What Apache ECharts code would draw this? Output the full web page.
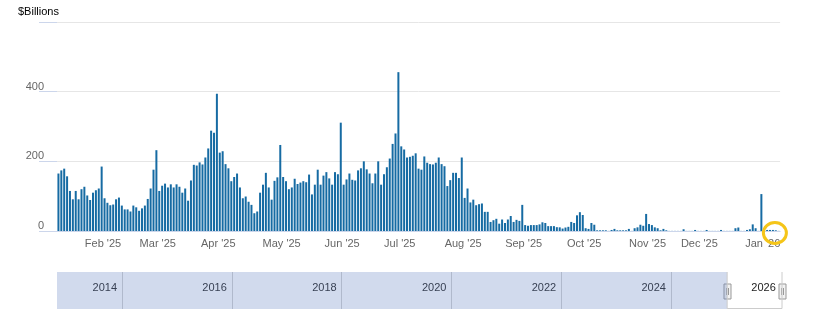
<!DOCTYPE html>
<html><head><meta charset="utf-8">
<script src="https://cdn.jsdelivr.net/npm/echarts@6/dist/echarts.min.js"></script>
<style>html,body{margin:0;padding:0;background:#fff}#c{width:813px;height:324px}</style>
</head><body><div id="c"></div>
<script>
// ---- data (values in $Billions, one per business day) ----
const firstDate = '2025-01-09';
const holidays = ['2025-01-20','2025-02-17','2025-05-26','2025-06-19','2025-07-04','2025-09-01','2025-10-13','2025-11-11','2025-11-27','2025-12-25','2026-01-01'];
const months = ['2025-01','2025-02','2025-03','2025-04','2025-05','2025-06','2025-07','2025-08','2025-09','2025-10','2025-11','2025-12','2026-01'];
const jan25 = [165,174,179,157,115,91,115,91,120,127,102,89,110,117,122,185];
const feb25 = [94,81,74,76,91,96,73,62,62,56,73,68,58,65,73,92,122,176,232];
const mar25 = [115,130,136,125,134,125,134,127,110,122,87,145,190,188,197,191,211,237,288,282,394];
const apr25 = [225,229,192,180,143,155,165,125,94,99,84,75,51,56,110,133,167,125,90,144,154,247];
const may25 = [155,143,120,125,150,135,139,143,140,162,105,133,176,133,159,169,151,133,169,163,311];
const jun25 = [133,148,165,147,145,174,180,200,177,165,137,165,200,133,163,183,208,250,280,456];
const jul25 = [243,234,211,213,216,223,179,176,214,196,192,191,196,211,192,186,129,146,167,167,152,211];
const aug25 = [95,122,82,90,74,77,79,55,55,26,31,35,21,33,23,33,43,26,32,29,75];
const sep25 = [17,15,17,17,17,19,25,23,14,14,14,11,10.5,7,10,12,26,23,45,54,46];
const oct25 = [8,6,23,18,2,2,2,2,0.3,3,6,2,2,2,2,6,0.3,8,10.5,18,15,49];
const nov25 = [20,17,10.5,8,2,6,2,0.3,0.3,0.3,0.3,0.3,5,0.3,0.3,0.3,3,0.3];
const dec25 = [0.3,0.3,3,0.3,0.3,0.3,0.3,3,0.3,0.3,0.3,0.3,8,10,0.3,0.3,3,5,19,8,0.3,106];
const jan26 = [0.5,3,3,3,2,0.3];
const monthValues = [jan25,feb25,mar25,apr25,may25,jun25,jul25,aug25,sep25,oct25,nov25,dec25,jan26];

// x-axis tick labels (first business day of each month)
const monthTicks = ['2025-02','2025-03','2025-04','2025-05','2025-06','2025-07','2025-08','2025-09','2025-10','2025-11','2025-12','2026-01'];
const tickLabels = ["Feb '25","Mar '25","Apr '25","May '25","Jun '25","Jul '25","Aug '25","Sep '25","Oct '25","Nov '25","Dec '25","Jan '26"];
// y-axis
const yMin = 0, yMax = 600, yStep = 200;
// navigator
const navRange = ['2012-10-25','2026-01-09'];
const navSeparatorYears = [2014,2016,2018,2020,2022,2024];
const navLabelYears = [2014,2016,2018,2020,2022,2024,2026];
const selection = ['2025-01-09','2026-01-09'];
const highlightDate = '2026-01-07';

// ---- build categories ----
function ts(s){const p=s.split('-').map(Number);return Date.UTC(p[0],p[1]-1,p[2]||1);}
function fmt(t){const d=new Date(t);return d.getUTCFullYear()+'-'+String(d.getUTCMonth()+1).padStart(2,'0')+'-'+String(d.getUTCDate()).padStart(2,'0');}
const dates=[], values=[];
months.forEach((m,mi)=>{
  const p=m.split('-').map(Number);
  const vals=monthValues[mi];
  let k=0;
  for(let day=1; day<=31 && k<vals.length; day++){
    const t=Date.UTC(p[0],p[1]-1,day);
    const d=new Date(t);
    if(d.getUTCMonth()!==p[1]-1) break;
    const wd=d.getUTCDay();
    const s=fmt(t);
    if(wd===0||wd===6||holidays.includes(s)||t<ts(firstDate)) continue;
    dates.push(s); values.push(vals[k++]);
  }
});
const tickIndex={};
monthTicks.forEach((m,i)=>{const idx=dates.findIndex(d=>d.startsWith(m)); if(idx>=0) tickIndex[idx]=tickLabels[i];});
const isTick=(i)=>tickIndex[i]!==undefined;

const FONT='"Liberation Sans", Arial, sans-serif';
const chart=echarts.init(document.getElementById('c'));
chart.setOption({
  animation:false,
  textStyle:{fontFamily:FONT},
  title:{text:'$Billions',left:18,top:6,padding:0,textStyle:{fontSize:11,fontWeight:'normal',color:'#000',fontFamily:FONT}},
  grid:[
    {left:57,top:22,width:723.1,height:209},
    {left:57,top:272,width:725,height:37,show:true,backgroundColor:'#fff',borderWidth:0}
  ],
  xAxis:[
    {type:'category',gridIndex:0,data:dates,boundaryGap:true,
     axisLine:{lineStyle:{color:'#ccd6eb'}},
     axisTick:{interval:(i)=>isTick(i),length:9,lineStyle:{color:'#ccd6eb'}},
     axisLabel:{interval:(i)=>isTick(i),formatter:(v,i)=>tickIndex[i]||'',color:'#666',fontSize:11,margin:7,padding:[0,3,0,0],fontFamily:FONT},
     splitLine:{show:false}},
    {type:'value',gridIndex:1,min:ts(navRange[0]),max:ts(navRange[1]),
     axisLine:{show:false},
     axisTick:{show:true,inside:true,length:37,customValues:navSeparatorYears.map(y=>Date.UTC(y,0,1)),lineStyle:{color:'#d0d0d0'}},
     axisLabel:{customValues:navLabelYears.map(y=>Date.UTC(y,0,1)),formatter:(v)=>String(new Date(v).getUTCFullYear()),
       inside:true,margin:21,verticalAlign:'middle',align:'right',padding:[0,5,0,0],color:'#222',fontSize:11,fontFamily:FONT,hideOverlap:false,showMinLabel:true,showMaxLabel:true},
     splitLine:{show:false}}
  ],
  yAxis:[
    {type:'value',gridIndex:0,min:yMin,max:yMax,interval:yStep,
     axisLine:{show:false},
     axisTick:{show:true,length:18,lineStyle:{color:'#ccd6eb'}},
     axisLabel:{color:'#666',fontSize:11,margin:13,verticalAlign:'bottom',lineHeight:10,fontFamily:FONT,formatter:(v)=>v===yMax?'':String(v)},
     splitLine:{lineStyle:{color:'#e6e6e6'}}},
    {type:'value',gridIndex:1,min:0,max:1,show:false}
  ],
  series:[
    {type:'bar',xAxisIndex:0,yAxisIndex:0,data:values,barWidth:2,itemStyle:{color:'#166ba3'}},
    {type:'line',xAxisIndex:1,yAxisIndex:1,data:[],silent:true,
     markArea:{silent:true,itemStyle:{color:'rgba(102,133,194,0.3)'},
       data:[[{xAxis:ts(navRange[0])},{xAxis:ts(selection[0])}],[{xAxis:ts(selection[1])},{xAxis:ts(navRange[1])}]]}}
  ]
});

// navigator outline, handles and highlight ring, positioned through the axes
const x0=chart.convertToPixel({xAxisIndex:1},ts(selection[0]));
const x1=chart.convertToPixel({xAxisIndex:1},ts(selection[1]));
const navTop=272, navBot=309;
function handle(x){
  return {type:'group',x:Math.round(x)+0.5,y:284,z:20,children:[
    {type:'rect',shape:{x:-3.5,y:0,width:7,height:15},style:{fill:'#f2f2f2',stroke:'#999',lineWidth:1}},
    {type:'line',shape:{x1:-1,y1:4,x2:-1,y2:11},style:{stroke:'#999',lineWidth:1}},
    {type:'line',shape:{x1:1,y1:4,x2:1,y2:11},style:{stroke:'#999',lineWidth:1}}
  ]};
}
const hp=chart.convertToPixel({xAxisIndex:0,yAxisIndex:0},[highlightDate,0]);
chart.setOption({graphic:[
  {type:'polyline',z:15,shape:{points:[[x0,navTop],[x0,navBot-0.5],[x1,navBot-0.5],[x1,navTop]]},style:{stroke:'#ccc',fill:null,lineWidth:1}},
  handle(x0),handle(x1),
  {type:'ellipse',z:30,shape:{cx:hp[0]+2,cy:hp[1]+2,rx:11.5,ry:10.5},style:{stroke:'#f5c518',fill:null,lineWidth:3}}
]});
</script>
</body></html>
